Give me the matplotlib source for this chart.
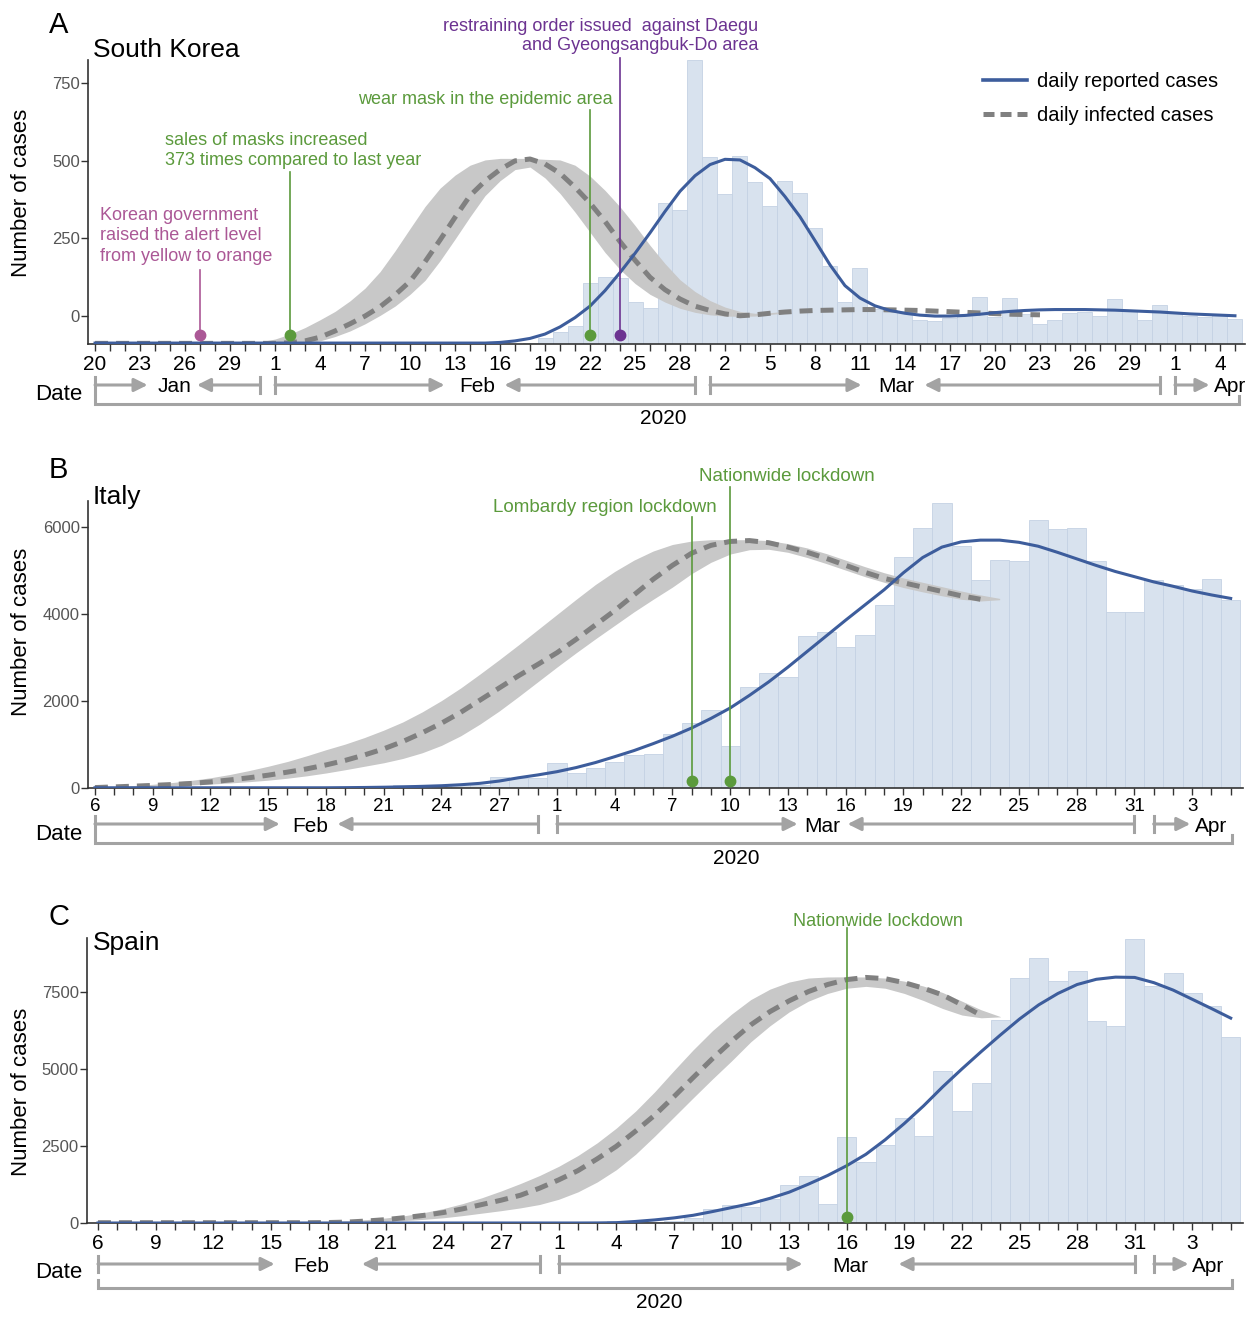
import pandas as pd
import matplotlib
matplotlib.use('Agg')
import matplotlib.pyplot as plt
from matplotlib import transforms
from matplotlib.lines import Line2D

plt.rcParams['font.family'] = ['Liberation Sans', 'DejaVu Sans']

# ---------------- data (day 0 = first date of each panel) ----------------
# South Korea, day 0 = 2020-01-20
korea_start = '2020-01-20'
korea_cases = [1, 0, 0, 0, 1, 0, 1, 1, 0, 0,
               2, 5, 1, 3, 0, 0, 4, 4, 0, 0,
               3, 2, 0, 0, 0, 0, 0, 1, 1, 3,
               18, 40, 58, 197, 215, 213, 135, 115, 454, 431,
               916, 602, 483, 605, 522, 444, 525, 487, 373, 251,
               135, 246, 114, 110, 107, 76, 74, 84, 93, 152,
               87, 147, 98, 64, 76, 100, 104, 91, 146, 105,
               78, 125, 101, 89, 86, 94, 81]
korea_reported = [-87, -87, -87, -87, -87, -87, -87, -87, -87, -87,
                  -87, -87, -87, -87, -87, -87, -87, -87, -87, -87,
                  -87, -87, -87, -87, -87, -87, -87, -85, -80, -72,
                  -58, -35, -5, 32, 82, 140, 202, 268, 337, 402,
                  452, 488, 505, 503, 478, 443, 385, 320, 243, 165,
                  98, 58, 33, 18, 9, 3, 0, 0, 2, 6,
                  11, 15, 18, 20, 21, 21, 21, 20, 19, 17,
                  15, 13, 10, 7, 5, 3, 1]
korea_infected = [-88, -88, -88, -88, -88, -88, -88, -88, -88, -88,
                  -88, -88, -88, -86, -80, -68, -48, -25, 0, 30,
                  68, 112, 175, 245, 318, 388, 435, 472, 500, 506,
                  490, 460, 415, 364, 305, 240, 180, 125, 85, 55,
                  32, 18, 7, 1, 4, 9, 13, 16, 18, 19,
                  20, 21, 21, 20, 19, 18, 16, 14, 12, 10,
                  8, 6, 5, 4]
korea_band_start = 8
korea_band_hi = [-88, -88, -87, -83, -74, -58, -37, -12, 15, 49,
                 90, 143, 210, 282, 353, 412, 454, 486, 503, 508,
                 508, 508, 505, 503, 486, 451, 405, 352, 292, 228,
                 169, 117, 79, 50, 29, 15, 9, 11, 15]
korea_band_lo = [-88, -88, -88, -88, -88, -88, -87, -80, -66, -48,
                 -25, 2, 32, 70, 115, 178, 248, 320, 388, 436,
                 472, 480, 445, 395, 335, 270, 205, 150, 105, 70,
                 45, 25, 12, 4, 0, -1, 0, 5, 10]

# Italy, day 0 = 2020-02-06
italy_start = '2020-02-06'
italy_cases = [1, 0, 0, 0, 0, 0, 0, 0, 0, 0,
               0, 0, 0, 0, 0, 17, 62, 76, 74, 93,
               78, 250, 238, 240, 566, 342, 466, 587, 769, 778,
               1247, 1492, 1797, 977, 2313, 2651, 2547, 3497, 3590, 3233,
               3526, 4207, 5322, 5986, 6557, 5560, 4789, 5249, 5210, 6153,
               5959, 5974, 5217, 4050, 4053, 4782, 4668, 4585, 4805, 4316]
italy_reported = [5, 5, 5, 5, 5, 5, 5, 5, 5, 5,
                  5, 5, 5, 8, 12, 18, 26, 38, 52, 75,
                  107, 160, 235, 300, 375, 470, 585, 720, 860, 1020,
                  1190, 1380, 1600, 1840, 2130, 2440, 2780, 3140, 3500, 3860,
                  4210, 4560, 4950, 5300, 5540, 5660, 5700, 5700, 5650, 5560,
                  5420, 5270, 5120, 4980, 4860, 4740, 4640, 4530, 4440, 4360]
italy_infected = [10, 25, 42, 60, 80, 105, 140, 185, 235, 295,
                  365, 440, 530, 635, 760, 900, 1070, 1270, 1490, 1740,
                  2020, 2300, 2580, 2840, 3110, 3420, 3750, 4080, 4440, 4800,
                  5120, 5400, 5580, 5670, 5690, 5640, 5540, 5420, 5280, 5120,
                  4960, 4820, 4720, 4620, 4520, 4420, 4340]
italy_band_start = 0
italy_band_hi = [12, 30, 55, 85, 125, 175, 235, 310, 400, 500,
                 610, 740, 880, 1010, 1160, 1330, 1520, 1750, 2010, 2300,
                 2620, 2950, 3290, 3640, 3990, 4340, 4680, 4980, 5240, 5450,
                 5600, 5680, 5710, 5710, 5710, 5690, 5620, 5520, 5390, 5240,
                 5090, 4950, 4830, 4730, 4630, 4530, 4440, 4360]
italy_band_lo = [5, 15, 28, 40, 55, 70, 90, 115, 145, 180,
                 225, 280, 345, 420, 500, 580, 680, 810, 980, 1200,
                 1470, 1770, 2100, 2440, 2780, 3110, 3430, 3740, 4050, 4340,
                 4620, 4930, 5190, 5380, 5480, 5490, 5420, 5300, 5160, 5010,
                 4860, 4730, 4610, 4510, 4420, 4340, 4300, 4330]

# Spain, day 0 = 2020-02-06
spain_start = '2020-02-06'
spain_cases = [0, 0, 0, 1, 0, 0, 0, 0, 0, 0,
               0, 0, 0, 0, 0, 0, 0, 0, 0, 4,
               7, 2, 17, 13, 39, 36, 45, 57, 37, 40,
               50, 151, 444, 584, 509, 769, 1234, 1537, 617, 2803,
               1991, 2532, 3420, 2825, 4946, 3647, 4535, 6591, 7944, 8593,
               7868, 8192, 6558, 6396, 9221, 7706, 8106, 7457, 7045, 6028]
spain_reported = [0, 0, 0, 0, 0, 0, 0, 0, 0, 0,
                  0, 0, 0, 0, 0, 0, 0, 0, 0, 0,
                  0, 0, 0, 0, 0, 0, 2, 10, 50, 100,
                  165, 250, 370, 500, 630, 800, 1000, 1260, 1540, 1860,
                  2230, 2700, 3230, 3800, 4420, 5000, 5560, 6100, 6620, 7080,
                  7450, 7740, 7910, 7980, 7970, 7800, 7560, 7260, 6960, 6650]
spain_infected = [10, 10, 10, 10, 10, 10, 10, 10, 10, 10,
                  10, 10, 15, 30, 65, 110, 175, 250, 340, 460,
                  600, 740, 900, 1130, 1400, 1700, 2080, 2490, 2980, 3500,
                  4100, 4720, 5330, 5900, 6430, 6860, 7210, 7510, 7740, 7900,
                  7970, 7930, 7800, 7620, 7400, 7080, 6740]
spain_band_start = 10
spain_band_hi = [20, 30, 45, 70, 110, 165, 240, 340, 470, 630,
                 820, 1040, 1280, 1540, 1840, 2190, 2600, 3080, 3630, 4260,
                 4950, 5620, 6240, 6780, 7250, 7590, 7820, 7950, 7985, 7990,
                 7985, 7950, 7850, 7690, 7480, 7200, 6920, 6700]
spain_band_lo = [5, 8, 10, 15, 30, 50, 80, 120, 170, 240,
                 320, 400, 490, 600, 770, 1010, 1330, 1730, 2230, 2820,
                 3440, 4060, 4670, 5260, 5880, 6400, 6850, 7200, 7450, 7620,
                 7680, 7620, 7450, 7220, 6960, 6750, 6660, 6690]

# ---------------- style ----------------
W, H = 1247, 1318
BAR = '#d8e2ee'
BAR_EDGE = '#c4d2e3'
BLUE = '#3d5d9c'
DASH = '#808080'
BAND = '#c8c8c8'
ARROW = '#a3a3a3'
AXC = '#333333'
GREEN = '#5b9a3c'
PINK = '#ab5896'
PURPLE = '#6c3391'

fig = plt.figure(figsize=(W / 100, H / 100), dpi=100)


def fx(px):
    return px / W


def fy(py):
    return 1 - py / H


def make_panel(box, xlim, ylim, yticks, start, ndays, cases, base,
               reported, infected, band_start, band_hi, band_lo, tick_fs, tick_pad):
    left, top, right, bottom = box
    ax = fig.add_axes([fx(left), fy(bottom), (right - left) / W, (bottom - top) / H])
    days = list(range(ndays))
    ax.bar(days, cases, bottom=base, width=1.0, color=BAR, edgecolor=BAR_EDGE,
           linewidth=0.6, zorder=1)
    bd = list(range(band_start, band_start + len(band_hi)))
    ax.fill_between(bd, band_lo, band_hi, color=BAND, linewidth=0, zorder=2)
    ax.plot(range(len(infected)), infected, color=DASH, lw=3.6,
            dashes=(2.6, 1.6), dash_capstyle='butt', zorder=3)
    ax.plot(range(len(reported)), reported, color=BLUE, lw=2.2, zorder=4)
    ax.set_xlim(*xlim)
    ax.set_ylim(*ylim)
    ax.set_yticks(yticks)
    ax.tick_params(axis='y', length=5, width=1, color=AXC, labelsize=12,
                   labelcolor='#555555', pad=1)
    dates = pd.date_range(start, periods=ndays)
    major = list(range(0, ndays, 3))
    ax.set_xticks(major)
    ax.set_xticklabels([str(dates[i].day) for i in major])
    ax.set_xticks(days, minor=True)
    ax.tick_params(axis='x', which='both', length=5, width=1, color=AXC,
                   labelsize=tick_fs, pad=tick_pad)
    for s in ('top', 'right'):
        ax.spines[s].set_visible(False)
    for s in ('left', 'bottom'):
        ax.spines[s].set_color(AXC)
        ax.spines[s].set_linewidth(1.2)
    return ax


def date_brackets(ax, months, row_y, year_span, year_y, year_x, date_y):
    tr = transforms.blended_transform_factory(ax.transData, fig.transFigure)
    y = fy(row_y)
    dy = 8 / H
    arrow = dict(arrowstyle='-|>', color=ARROW, lw=2.2, mutation_scale=20,
                 shrinkA=0, shrinkB=0)
    for start, end, name, lab, a_right, a_left in months:
        ax.plot([start, start], [y - dy, y + dy], color=ARROW, lw=2.2,
                transform=tr, clip_on=False)
        ax.annotate('', xy=(a_right, y), xytext=(start, y), xycoords=tr,
                    textcoords=tr, arrowprops=arrow, annotation_clip=False)
        if end is not None:
            ax.plot([end, end], [y - dy, y + dy], color=ARROW, lw=2.2,
                    transform=tr, clip_on=False)
            ax.annotate('', xy=(a_left, y), xytext=(end, y), xycoords=tr,
                        textcoords=tr, arrowprops=arrow, annotation_clip=False)
        ax.text(lab, fy(row_y + 2), name, transform=tr, ha='center', va='center',
                fontsize=15)
    yb = fy(year_y)
    x0, x1 = year_span
    ax.plot([x0, x0, x1, x1], [yb + dy, yb, yb, yb + dy], color=ARROW, lw=2.2,
            transform=tr, clip_on=False, solid_joinstyle='miter')
    fig.text(fx(year_x), fy(year_y + 15), '2020', ha='center', va='center',
             fontsize=15)
    fig.text(fx(35), fy(date_y), 'Date', ha='left', va='center', fontsize=16)


def event(ax, day, y_top, y_dot, color):
    tr = transforms.blended_transform_factory(ax.transData, fig.transFigure)
    ax.plot([day, day], [fy(y_top), fy(y_dot)], color=color, lw=1.2,
            transform=tr, clip_on=False, zorder=6)
    ax.plot([day], [fy(y_dot)], 'o', color=color, ms=7.5, transform=tr,
            clip_on=False, zorder=7)


# ---------------- panel A: South Korea ----------------
axA = make_panel((88, 60, 1245, 344), (-0.47, 76.67), (-90, 825),
                 [0, 250, 500, 750], korea_start, len(korea_cases), korea_cases,
                 -90, korea_reported, korea_infected, korea_band_start,
                 korea_band_hi, korea_band_lo, 15, 3)
date_brackets(axA,
              [(0, 11, 'Jan', 5.27, 3.5, 6.8),
               (12, 40, 'Feb', 25.5, 23.3, 27.3),
               (41, 71, 'Mar', 53.4, 51.1, 55.3),
               (72, None, 'Apr', 75.7, 74.3, None)],
              385, (0, 76.3), 404, 663, 395)
legend_handles = [Line2D([], [], color=BLUE, lw=2.6),
                  Line2D([], [], color=DASH, lw=3.6, dashes=(2.2, 1.2))]
axA.legend(legend_handles, ['daily reported cases', 'daily infected cases'],
           loc='upper left', bbox_to_anchor=(fx(983), fy(72)),
           bbox_transform=fig.transFigure, frameon=False, fontsize=14.5,
           handlelength=2.2, handletextpad=0.5, labelspacing=0.75,
           borderpad=0, borderaxespad=0)

fig.text(fx(100), fy(236), 'Korean government\nraised the alert level\nfrom yellow to orange',
         color=PINK, fontsize=13, ha='left', va='center', linespacing=1.25)
event(axA, 7, 270, 335, PINK)
fig.text(fx(165), fy(150.5), 'sales of masks increased\n373 times compared to last year',
         color=GREEN, fontsize=13, ha='left', va='center', linespacing=1.2)
event(axA, 13, 172, 335, GREEN)
fig.text(fx(613), fy(100), 'wear mask in the epidemic area', color=GREEN,
         fontsize=13, ha='right', va='center')
event(axA, 33, 110, 335, GREEN)
fig.text(fx(758), fy(36), 'restraining order issued  against Daegu\nand Gyeongsangbuk-Do area',
         color=PURPLE, fontsize=13, ha='right', va='center', multialignment='right',
         linespacing=1.2)
event(axA, 35, 58, 335, PURPLE)

# ---------------- panel B: Italy ----------------
axB = make_panel((88, 501, 1243, 788), (-0.36, 59.64), (0, 6600),
                 [0, 2000, 4000, 6000], italy_start, len(italy_cases), italy_cases,
                 0, italy_reported, italy_infected, italy_band_start,
                 italy_band_hi, italy_band_lo, 13.5, 2)
date_brackets(axB,
              [(0, 23, 'Feb', 11.2, 9.6, 12.6),
               (24, 54, 'Mar', 37.8, 36.5, 39.1),
               (55, None, 'Apr', 58.0, 56.9, None)],
              824, (0, 59.06), 843, 736, 835)
fig.text(fx(699), fy(477), 'Nationwide lockdown', color=GREEN, fontsize=13.5,
         ha='left', va='center')
event(axB, 33, 487, 781, GREEN)
fig.text(fx(717), fy(507), 'Lombardy region lockdown', color=GREEN, fontsize=13.5,
         ha='right', va='center')
event(axB, 31, 517, 781, GREEN)

# ---------------- panel C: Spain ----------------
axC = make_panel((87, 938, 1243, 1223), (-0.57, 59.64), (0, 9250),
                 [0, 2500, 5000, 7500], spain_start, len(spain_cases), spain_cases,
                 0, spain_reported, spain_infected, spain_band_start,
                 spain_band_hi, spain_band_lo, 15, 3)
date_brackets(axC,
              [(0, 23, 'Feb', 11.1, 9.2, 13.75),
               (24, 54, 'Mar', 39.2, 36.7, 41.7),
               (55, None, 'Apr', 57.8, 56.8, None)],
              1264, (0, 59.06), 1288, 659, 1273)
fig.text(fx(793), fy(921), 'Nationwide lockdown', color=GREEN, fontsize=13,
         ha='left', va='center')
event(axC, 39, 928, 1217, GREEN)

# ---------------- panel labels ----------------
for letter, name, ly, ty, cy in [('A', 'South Korea', 25, 50, 193),
                                 ('B', 'Italy', 470, 497, 632),
                                 ('C', 'Spain', 917, 943, 1092)]:
    fig.text(fx(49), fy(ly), letter, fontsize=21, ha='left', va='center')
    fig.text(fx(93), fy(ty), name, fontsize=19, ha='left', va='center')
    fig.text(fx(22), fy(cy), 'Number of cases', fontsize=16, rotation=90,
             ha='center', va='center')

fig.savefig('out.png', dpi=100)
